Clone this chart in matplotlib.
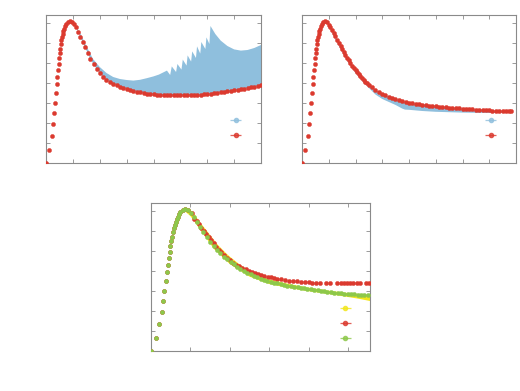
import numpy as np
import matplotlib
matplotlib.use("Agg")
import matplotlib.pyplot as plt

# colours
RED = '#db3a2f'
BLUE = '#8fbfdd'
YELLOW = '#f2e61c'
GREEN = '#8dc84a'
FRAME = '#8a8a8a'

# rising part, same in all three panels
rise_x = [0, 0.125, 0.21, 0.275, 0.31, 0.34, 0.375, 0.40, 0.425, 0.45, 0.475, 0.49,
          0.51, 0.525, 0.55, 0.575, 0.60, 0.625, 0.65, 0.675, 0.70, 0.74, 0.80, 0.875]
rise_y = [0, 0.67, 1.33, 1.97, 2.5, 3.0, 3.5, 3.97, 4.3, 4.63, 4.93, 5.25,
          5.5, 5.72, 5.93, 6.13, 6.3, 6.47, 6.6, 6.72, 6.83, 6.97, 7.07, 7.1]

# top left panel
tl_red_x = [0.95, 1.03, 1.11, 1.2, 1.28, 1.36, 1.45, 1.55, 1.65, 1.77, 1.88, 2.0,
            2.12, 2.25, 2.37, 2.5, 2.63, 2.75, 2.88, 3.0, 3.13, 3.25, 3.38, 3.5,
            3.63, 3.75, 3.88, 4.0, 4.13, 4.25, 4.38, 4.5, 4.63, 4.75, 4.88, 5.0,
            5.13, 5.25, 5.38, 5.5, 5.63, 5.75, 5.88, 6.0, 6.13, 6.25, 6.38, 6.5,
            6.63, 6.75, 6.88, 7.0, 7.13, 7.25, 7.38, 7.5, 7.63, 7.75, 7.88, 8.0]
tl_red_y = [7.07, 6.97, 6.8, 6.55, 6.3, 6.05, 5.8, 5.5, 5.2, 4.93, 4.72, 4.5,
            4.3, 4.14, 4.05, 3.96, 3.88, 3.82, 3.75, 3.7, 3.65, 3.6, 3.56, 3.53,
            3.5, 3.47, 3.45, 3.43, 3.41, 3.4, 3.39, 3.38, 3.38, 3.38, 3.38, 3.38,
            3.38, 3.39, 3.39, 3.4, 3.41, 3.42, 3.44, 3.45, 3.47, 3.49, 3.51, 3.53,
            3.56, 3.58, 3.6, 3.63, 3.66, 3.69, 3.72, 3.75, 3.78, 3.82, 3.85, 3.88]
tl_blue_top_x = [0.875, 1.1, 1.3, 1.5, 1.75, 2.0, 2.25, 2.5, 2.75, 3.0, 3.25, 3.5,
                 3.75, 4.0, 4.2, 4.35, 4.5, 4.62, 4.68, 4.84, 4.89, 5.04, 5.09, 5.23,
                 5.27, 5.40, 5.44, 5.58, 5.62, 5.74, 5.78, 5.93, 5.97, 6.08, 6.12, 6.3,
                 6.5, 6.75, 7.0, 7.25, 7.5, 7.75, 8.0]
tl_blue_top_y = [7.12, 6.9, 6.42, 5.85, 5.2, 4.8, 4.5, 4.3, 4.2, 4.15, 4.12, 4.16,
                 4.24, 4.33, 4.42, 4.52, 4.62, 4.4, 4.83, 4.55, 4.95, 4.67, 5.17, 4.87,
                 5.38, 5.07, 5.58, 5.25, 5.83, 5.47, 6.05, 5.7, 6.28, 5.95, 6.85, 6.45,
                 6.12, 5.85, 5.68, 5.62, 5.65, 5.75, 5.9]

# top right panel
tr_red_x = [0.95, 1.0, 1.06, 1.12, 1.19, 1.25, 1.31, 1.37, 1.44, 1.5, 1.56, 1.62,
            1.68, 1.74, 1.81, 1.87, 1.94, 2.0, 2.06, 2.12, 2.18, 2.24, 2.31, 2.37,
            2.43, 2.5, 2.62, 2.74, 2.87, 3.0, 3.12, 3.24, 3.37, 3.49, 3.62, 3.74,
            3.87, 4.0, 4.12, 4.25, 4.37, 4.5, 4.62, 4.75, 4.87, 5.0, 5.12, 5.25,
            5.37, 5.5, 5.62, 5.75, 5.87, 6.0, 6.12, 6.25, 6.37, 6.5, 6.62, 6.75,
            6.87, 7.0, 7.12, 7.25, 7.37, 7.5, 7.62, 7.75, 7.83]
tr_red_y = [7.05, 6.92, 6.8, 6.67, 6.5, 6.33, 6.17, 6.0, 5.85, 5.7, 5.56, 5.42,
            5.27, 5.13, 5.0, 4.87, 4.75, 4.63, 4.53, 4.44, 4.34, 4.25, 4.16, 4.07,
            3.99, 3.92, 3.79, 3.67, 3.57, 3.47, 3.38, 3.3, 3.25, 3.2, 3.15, 3.1,
            3.06, 3.02, 2.99, 2.96, 2.94, 2.92, 2.9, 2.87, 2.85, 2.83, 2.81, 2.8,
            2.78, 2.77, 2.76, 2.74, 2.73, 2.72, 2.71, 2.7, 2.69, 2.67, 2.66, 2.65,
            2.64, 2.63, 2.62, 2.61, 2.61, 2.6, 2.59, 2.58, 2.58]
tr_blue_low_x = [0.875, 1.0, 1.2, 1.4, 1.6, 1.8, 2.0, 2.25, 2.5, 2.75, 3.0, 3.25,
                 3.5, 3.75, 3.85, 4.0, 4.25, 4.5, 5.0, 5.5, 6.0, 6.5, 7.0, 7.5, 7.83]
tr_blue_low_y = [7.1, 6.85, 6.3, 5.8, 5.3, 4.88, 4.5, 4.1, 3.75, 3.42, 3.2, 3.05,
                 2.9, 2.72, 2.67, 2.66, 2.63, 2.6, 2.56, 2.54, 2.52, 2.51, 2.5, 2.5, 2.5]

# bottom panel
b_red_x = [0.95, 1.03, 1.1, 1.16, 1.22, 1.28, 1.34, 1.4, 1.46, 1.52, 1.59, 1.65,
           1.72, 1.78, 1.85, 1.92, 2.0, 2.08, 2.16, 2.24, 2.32, 2.4, 2.48, 2.56,
           2.64, 2.72, 2.8, 2.88, 2.96, 3.04, 3.12, 3.2, 3.3, 3.4, 3.5, 3.6,
           3.7, 3.8, 3.9, 4.0, 4.1, 4.2, 4.3, 4.45, 4.55, 4.72, 4.82, 4.9,
           4.98, 5.06, 5.14, 5.22, 5.3, 5.45, 5.53]
b_red_y = [7.05, 6.88, 6.6, 6.48, 6.33, 6.15, 6.0, 5.85, 5.7, 5.55, 5.38, 5.22,
           5.07, 4.95, 4.8, 4.66, 4.53, 4.42, 4.32, 4.24, 4.17, 4.1, 4.02, 3.95,
           3.88, 3.83, 3.78, 3.75, 3.72, 3.69, 3.66, 3.62, 3.58, 3.55, 3.52, 3.5,
           3.48, 3.46, 3.44, 3.43, 3.41, 3.4, 3.39, 3.38, 3.38, 3.38, 3.38, 3.38,
           3.38, 3.39, 3.39, 3.39, 3.4, 3.41, 3.42]
b_green_x = [0.94, 1.01, 1.08, 1.16, 1.24, 1.33, 1.41, 1.5, 1.59, 1.68, 1.76, 1.85,
             1.93, 2.02, 2.1, 2.19, 2.27, 2.36, 2.44, 2.53, 2.61, 2.7, 2.78, 2.87,
             2.95, 3.04, 3.12, 3.2, 3.29, 3.37, 3.46, 3.55, 3.63, 3.72, 3.8, 3.89,
             3.97, 4.06, 4.14, 4.23, 4.31, 4.4, 4.48, 4.57, 4.65, 4.74, 4.82, 4.91,
             4.99, 5.08, 5.16, 5.25, 5.33, 5.42, 5.5]
b_green_y = [7.05, 6.92, 6.7, 6.47, 6.22, 5.97, 5.72, 5.47, 5.26, 5.05, 4.88, 4.72,
             4.6, 4.47, 4.34, 4.22, 4.11, 4.0, 3.92, 3.83, 3.75, 3.68, 3.61, 3.55,
             3.5, 3.46, 3.42, 3.38, 3.34, 3.3, 3.27, 3.24, 3.21, 3.19, 3.17, 3.14,
             3.12, 3.09, 3.07, 3.04, 3.02, 2.99, 2.97, 2.95, 2.92, 2.9, 2.88, 2.87,
             2.85, 2.84, 2.83, 2.82, 2.81, 2.8, 2.8]
b_yel_top_x = [0.85, 1.0, 1.1, 1.2, 1.3, 1.4, 1.5, 1.6, 1.7, 1.8, 1.9, 2.0,
               2.25, 2.5, 2.75, 3.0, 3.5, 4.0, 4.5, 5.0, 5.56]
b_yel_top_y = [7.15, 7.05, 6.85, 6.55, 6.3, 6.05, 5.8, 5.55, 5.3, 5.1, 4.9, 4.72,
               4.33, 4.0, 3.75, 3.58, 3.35, 3.17, 3.02, 2.9, 2.8]
b_yel_low_x = [0.85, 1.0, 1.2, 1.6, 2.0, 2.5, 3.0, 3.5, 4.0, 4.5, 5.0, 5.25, 5.56]
b_yel_low_y = [7.0, 6.75, 6.2, 5.1, 4.35, 3.72, 3.35, 3.15, 2.99, 2.85, 2.7, 2.62, 2.5]


def style(ax, xmax):
    ax.set_xlim(0, xmax)
    ax.set_ylim(0, 7.4)
    ax.set_xticks(np.arange(0, int(xmax) + 1))
    ax.set_yticks(np.arange(0, 8))
    ax.tick_params(direction='in', top=True, right=True, length=3, width=0.6,
                   color=FRAME, labelbottom=False, labelleft=False)
    for s in ax.spines.values():
        s.set_color(FRAME)
        s.set_linewidth(0.8)


def dots(ax, x, y, c):
    ax.plot(x, y, 'o', ms=3.0, mec=c, mfc=c, mew=0.3, ls='none', zorder=3)


def keys(ax, colors, anchor):
    handles = [ax.errorbar([], [], xerr=[], fmt='o', ms=3, color=c, ecolor=c, alpha=0.8,
                           elinewidth=0.9, capsize=2, capthick=0.9) for c in colors]
    ax.legend(handles, [' '] * len(colors), loc='lower right', bbox_to_anchor=anchor,
              frameon=False, markerfirst=False, fontsize=8, handlelength=0.9,
              handletextpad=0.2, labelspacing=0.45, borderpad=0, borderaxespad=0)


fig = plt.figure(figsize=(5.2, 3.91), dpi=100)
ax1 = fig.add_axes([46 / 520, 228 / 391, 215 / 520, 148 / 391])
ax2 = fig.add_axes([302 / 520, 228 / 391, 214 / 520, 148 / 391])
ax3 = fig.add_axes([151 / 520, 40 / 391, 219 / 520, 148 / 391])

# top left
xl = np.array(tl_red_x)
yl = np.array(tl_red_y)
ax1.fill(np.r_[tl_blue_top_x, xl[::-1], 0.875], np.r_[tl_blue_top_y, yl[::-1], 7.1],
         color=BLUE, lw=0, zorder=2)
dots(ax1, rise_x + tl_red_x, rise_y + tl_red_y, RED)
style(ax1, 8)
keys(ax1, [BLUE, RED], (0.905, 0.15))

# top right
ax2.fill(np.r_[[0.875], tr_red_x, tr_blue_low_x[::-1]],
         np.r_[[7.1], tr_red_y, tr_blue_low_y[::-1]], color=BLUE, lw=0, zorder=2)
dots(ax2, rise_x + tr_red_x, rise_y + tr_red_y, RED)
style(ax2, 8)
keys(ax2, [BLUE, RED], (0.905, 0.15))

# bottom
ax3.fill(np.r_[b_yel_top_x, b_yel_low_x[::-1]], np.r_[b_yel_top_y, b_yel_low_y[::-1]],
         color=YELLOW, lw=0, zorder=2)
dots(ax3, rise_x + b_red_x, rise_y + b_red_y, RED)
dots(ax3, rise_x + b_green_x, rise_y + b_green_y, GREEN)
style(ax3, 5.56)
keys(ax3, [YELLOW, RED, GREEN], (0.91, 0.05))

fig.savefig('out.png', dpi=100)
